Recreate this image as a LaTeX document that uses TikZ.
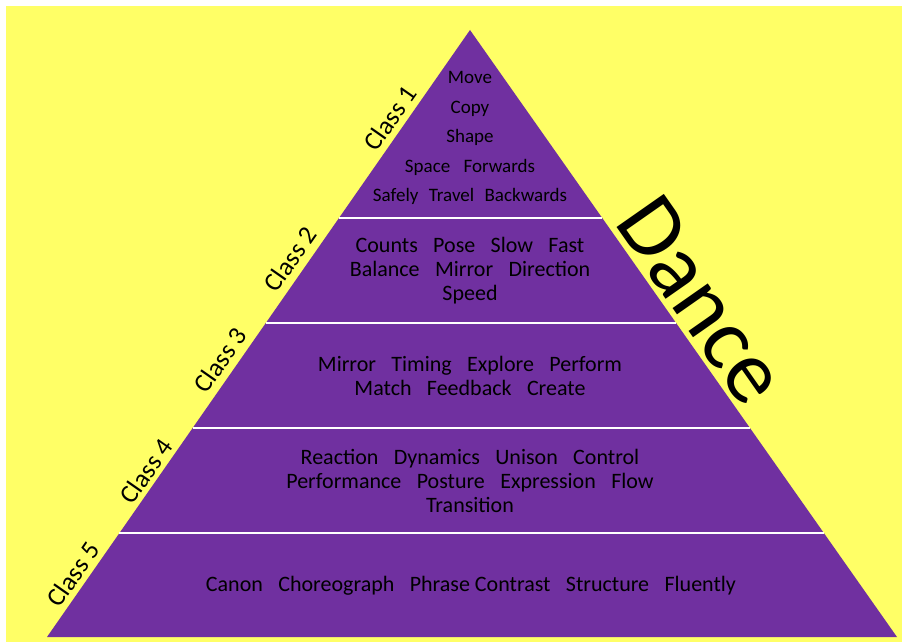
\documentclass[tikz,border=0pt]{standalone}
\usepackage{fontspec}
\setmainfont{Carlito}
\usetikzlibrary{calc}
\definecolor{bgyellow}{HTML}{FFFF66}
\definecolor{pyramid}{HTML}{7030A0}
\newcommand{\wgap}{\hspace{0.7em}}
\newcommand{\ngap}{\hspace{0.55em}}
\begin{document}
\begin{tikzpicture}[x=1pt,y=-1pt,
  bandtext/.style={align=center, text=black, inner sep=0pt},
  classlbl/.style={rotate=55, text=black, font=\fontsize{26}{30}\selectfont, inner sep=0pt},
  sepline/.style={draw=white, line width=1.3pt}]
\useasboundingbox (0,0) rectangle (902,642);
\fill[bgyellow] (6,6) rectangle (902,642);
\coordinate (apex) at (470,30);
\coordinate (bl) at (47,637);
\coordinate (br) at (897,637);
\fill[pyramid] (apex) -- (bl) -- (br) -- cycle;
\foreach \t/\n in {0.3097/a,0.4827/b,0.6557/c,0.8287/d}{
  \coordinate (l\n) at ($(apex)!\t!(bl)$);
  \coordinate (r\n) at ($(apex)!\t!(br)$);
  \draw[sepline] (l\n) -- (r\n);
}
\node[bandtext, font=\fontsize{19}{29.5}\selectfont] (t1) at (470,138)
  {Move\\Copy\\Shape\\Space\wgap Forwards\\Safely\ngap Travel\ngap Backwards};
\node[bandtext, font=\fontsize{22}{24}\selectfont] (t2) at (470,271)
  {Counts\wgap Pose\wgap Slow\wgap Fast\\Balance\wgap Mirror\wgap Direction\\Speed};
\node[bandtext, font=\fontsize{22}{24}\selectfont] (t3) at (470,376)
  {Mirror\wgap Timing\wgap Explore\wgap Perform\\Match\wgap Feedback\wgap Create};
\node[bandtext, font=\fontsize{22}{24}\selectfont] (t4) at (470,481)
  {Reaction\wgap Dynamics\wgap Unison\wgap Control\\Performance\wgap Posture\wgap Expression\wgap Flow\\Transition};
\node[bandtext, font=\fontsize{22}{24}\selectfont] (t5) at (471,586)
  {Canon\wgap Choreograph\wgap Phrase Contrast\wgap Structure\wgap Fluently};
\node[classlbl] (c1) at (390,118) {Class 1};
\node[classlbl] (c2) at (290,259) {Class 2};
\node[classlbl] (c3) at (220,360) {Class 3};
\node[classlbl] (c4) at (146,471) {Class 4};
\node[classlbl] (c5) at (73,574) {Class 5};
\node[rotate=-55, text=black, font=\fontsize{90}{100}\selectfont, inner sep=0pt] (dance) at (702,300) {Dance};
\end{tikzpicture}
\end{document}
